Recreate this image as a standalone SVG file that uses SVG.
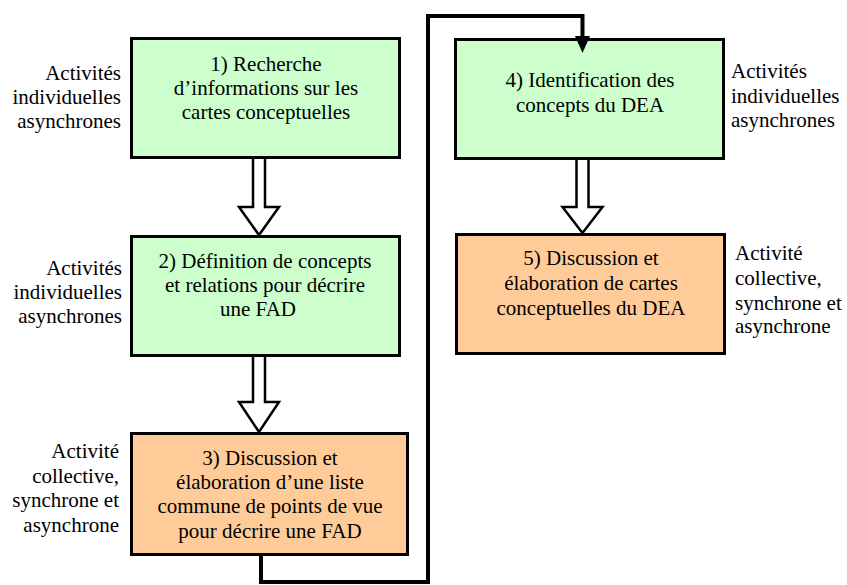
<svg xmlns="http://www.w3.org/2000/svg" width="847" height="585" viewBox="0 0 847 585" font-family="'Liberation Serif', 'Times New Roman', serif" font-size="21">
<style>
.t{font-family:"Liberation Serif","Times New Roman",serif;font-size:21px;fill:#000}
.c{text-anchor:middle}
.r{text-anchor:end}
.box{stroke:#000;stroke-width:3}
.g{fill:#CCFFCC}
.o{fill:#FFCC99}
.hollow{fill:#fff;stroke:#000;stroke-width:2.5;stroke-linejoin:miter}
.conn{fill:none;stroke:#000;stroke-width:4}
</style>
<rect width="847" height="585" fill="#fff"/>
<g id="n1" class="t">
<rect class="box g" x="131.5" y="38.5" width="268" height="119"/>
<text class="c" x="266" y="71">1) Recherche</text>
<text class="c" x="266" y="95">d’informations sur les</text>
<text class="c" x="266" y="119">cartes conceptuelles</text>
<text class="r" x="121" y="80">Activités</text>
<text class="r" x="121" y="104">individuelles</text>
<text class="r" x="121" y="128">asynchrones</text>
</g>
<g id="n2" class="t">
<rect class="box g" x="131.5" y="236.5" width="268" height="119"/>
<text class="c" x="265" y="268">2) Définition de concepts</text>
<text class="c" x="265" y="292">et relations pour décrire</text>
<text class="c" x="258" y="316">une FAD</text>
<text class="r" x="122" y="275">Activités</text>
<text class="r" x="122" y="299">individuelles</text>
<text class="r" x="122" y="323">asynchrones</text>
</g>
<g id="n3" class="t">
<rect class="box o" x="131.5" y="433.5" width="276" height="121"/>
<text class="c" x="270" y="465">3) Discussion et</text>
<text class="c" x="270" y="489">élaboration d’une liste</text>
<text class="c" x="270" y="513">commune de points de vue</text>
<text class="c" x="270" y="538">pour décrire une FAD</text>
<text class="r" x="119" y="458">Activité</text>
<text class="r" x="119" y="483">collective,</text>
<text class="r" x="119" y="507">synchrone et</text>
<text class="r" x="119" y="532">asynchrone</text>
</g>
<g id="n4" class="t">
<rect class="box g" x="455.5" y="39.5" width="268" height="119"/>
<text class="c" x="590" y="87">4) Identification des</text>
<text class="c" x="590" y="112">concepts du DEA</text>
<text x="731" y="78">Activités</text>
<text x="731" y="103">individuelles</text>
<text x="731" y="127">asynchrones</text>
</g>
<g id="n5" class="t">
<rect class="box o" x="456.5" y="234.5" width="268" height="119"/>
<text class="c" x="591" y="265">5) Discussion et</text>
<text class="c" x="591" y="290">élaboration de cartes</text>
<text class="c" x="591" y="315">conceptuelles du DEA</text>
<text x="735" y="260">Activité</text>
<text x="735" y="285">collective,</text>
<text x="735" y="310">synchrone et</text>
<text x="735" y="333">asynchrone</text>
</g>
<g id="connectors">
<path class="hollow" d="M253,159 V207 H239 L259,235 L279,207 H265 V159"/>
<path class="hollow" d="M253,357 V402 H239 L259,432 L279,402 H265 V357"/>
<path class="hollow" d="M576.5,160 V207 H562.5 L582.5,233 L602.5,207 H588.5 V160"/>
<path class="conn" d="M261,556 V582 H428 V16 H582.5 V38"/>
<polygon points="575,36 590,36 582.5,53" fill="#000"/>
</g>
</svg>
